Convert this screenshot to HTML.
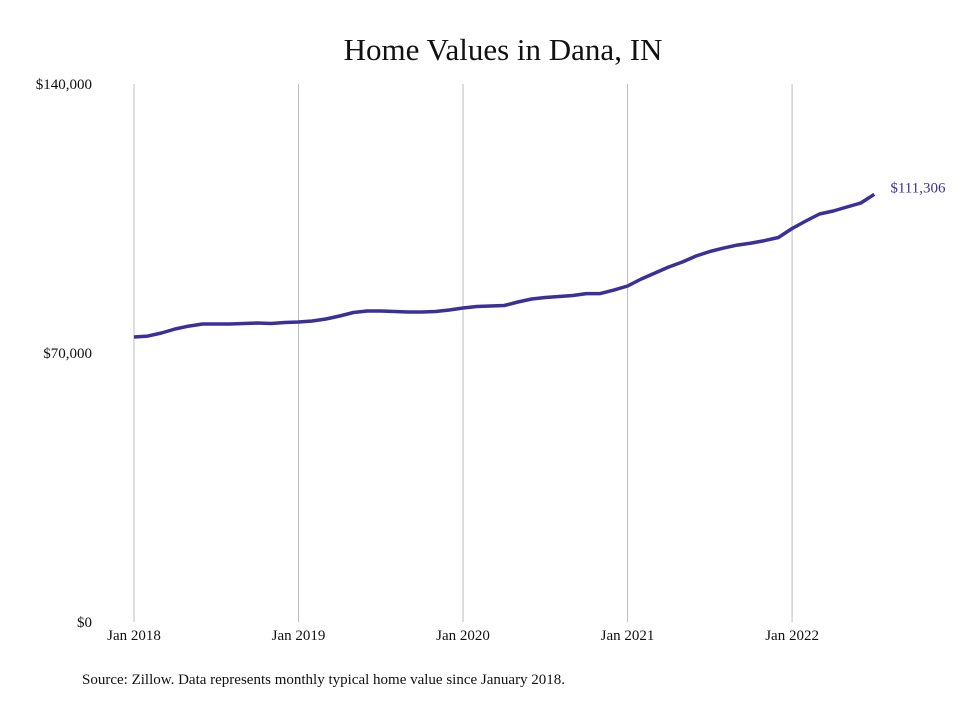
<!DOCTYPE html>
<html><head><meta charset="utf-8"><style>
body{margin:0;background:#fff;}
svg text{font-family:"Liberation Serif",serif;}
</style></head><body>
<svg width="980" height="699" viewBox="0 0 980 699" id="chart">
<text x="503" y="60" text-anchor="middle" font-size="31" fill="#111">Home Values in Dana, IN</text>
<g id="grid"></g>
<g id="yaxis"></g>
<g id="xaxis"></g>
<path id="line" fill="none" stroke="#3a309a" stroke-width="3.5" stroke-linejoin="round"/>
<text id="lastlabel" font-size="15" fill="#3a309a"></text>
<text x="82" y="684" font-size="15" fill="#111">Source: Zillow. Data represents monthly typical home value since January 2018.</text>
</svg>
<script>
const xTickLabels=["Jan 2018","Jan 2019","Jan 2020","Jan 2021","Jan 2022"];
const yTickValues=[0,70000,140000];
const yTickLabels=["$0","$70,000","$140,000"];
const values=[74160,74400,75200,76240,77000,77540,77540,77540,77670,77800,77670,77930,
78060,78320,78840,79620,80530,80920,80920,80790,80660,80660,80790,81180,
81700,82090,82220,82350,83260,84040,84430,84690,84950,85470,85470,86380,
87430,89250,90810,92370,93670,95230,96400,97310,98090,98610,99260,100050,
102390,104340,106160,106940,107980,109020,111306];
const lastLabel="$111,306";
const NS="http://www.w3.org/2000/svg";
const x0=134,monthW=13.71,yBase=622,yTop=84,yMax=140000;
const xs=i=>x0+i*monthW;
const ys=v=>yBase-(v/yMax)*(yBase-yTop);
function mk(tag,attrs,parent){const e=document.createElementNS(NS,tag);for(const k in attrs)e.setAttribute(k,attrs[k]);parent.appendChild(e);return e;}
const grid=document.getElementById('grid'),xa=document.getElementById('xaxis'),ya=document.getElementById('yaxis');
xTickLabels.forEach((l,i)=>{
  const x=xs(i*12);
  const ln=mk('line',{x1:x,x2:x,y1:yTop,y2:yBase,stroke:'#bdbdbd','stroke-width':1},grid);
  
  
  const t=mk('text',{x:x,y:640,'text-anchor':'middle','font-size':15,fill:'#111'},xa);
  t.textContent=l;
  
  
});
yTickValues.forEach((v,i)=>{
  const t=mk('text',{x:92,y:ys(v)+5,'text-anchor':'end','font-size':15,fill:'#111'},ya);
  t.textContent=yTickLabels[i];
  
  
});
document.getElementById('line').setAttribute('d',values.map((v,i)=>(i?'L':'M')+xs(i).toFixed(1)+','+ys(v).toFixed(1)).join(''));
const lb=document.getElementById('lastlabel'),li=values.length-1;
lb.setAttribute('x',xs(li)+16);lb.setAttribute('y',ys(values[li])-2);
lb.textContent=lastLabel;
</script>
</body></html>
